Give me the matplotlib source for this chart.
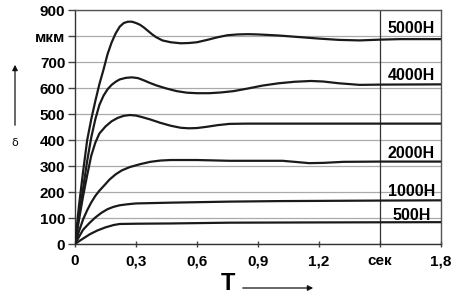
import matplotlib
matplotlib.use("Agg")
import matplotlib.pyplot as plt

# ---- data ----
t_5000 = [0, 0.02, 0.04, 0.06, 0.08, 0.1, 0.12, 0.14, 0.16, 0.18, 0.2, 0.22, 0.24, 0.26, 0.28, 0.30, 0.32, 0.34, 0.36, 0.38, 0.40, 0.43, 0.47, 0.52, 0.56, 0.6, 0.65, 0.7, 0.75, 0.8, 0.85, 0.9, 1.0, 1.1, 1.2, 1.3, 1.4, 1.5, 1.6, 1.8]
v_5000 = [0, 150, 280, 400, 480, 550, 615, 670, 730, 775, 810, 836, 850, 855, 855, 850, 843, 832, 819, 806, 795, 783, 776, 772, 773, 776, 785, 795, 803, 806, 807, 806, 802, 796, 790, 785, 783, 786, 788, 788]

t_4000 = [0, 0.02, 0.04, 0.06, 0.08, 0.1, 0.12, 0.14, 0.16, 0.18, 0.2, 0.22, 0.25, 0.28, 0.31, 0.34, 0.37, 0.4, 0.45, 0.5, 0.55, 0.6, 0.66, 0.72, 0.78, 0.85, 0.92, 1.0, 1.08, 1.16, 1.22, 1.3, 1.4, 1.5, 1.8]
v_4000 = [0, 110, 215, 320, 410, 480, 535, 570, 595, 612, 624, 633, 639, 641, 638, 629, 619, 610, 598, 588, 582, 580, 580, 583, 588, 598, 609, 618, 624, 627, 625, 618, 612, 613, 614]

t_3000 = [0, 0.02, 0.04, 0.06, 0.08, 0.1, 0.12, 0.15, 0.18, 0.21, 0.24, 0.27, 0.3, 0.33, 0.37, 0.42, 0.47, 0.52, 0.56, 0.6, 0.65, 0.7, 0.76, 0.85, 1.8]
v_3000 = [0, 95, 185, 265, 340, 390, 425, 452, 472, 485, 493, 496, 494, 488, 479, 466, 455, 447, 445, 446, 451, 457, 462, 463, 463]

t_2000 = [0, 0.02, 0.04, 0.06, 0.08, 0.1, 0.12, 0.14, 0.17, 0.2, 0.23, 0.27, 0.32, 0.37, 0.42, 0.47, 0.6, 0.76, 1.02, 1.08, 1.15, 1.22, 1.32, 1.5, 1.8]
v_2000 = [0, 50, 95, 130, 160, 185, 205, 222, 248, 268, 283, 296, 307, 316, 321, 323, 323, 320, 320, 316, 311, 312, 316, 317, 317]

t_1000 = [0, 0.02, 0.04, 0.07, 0.1, 0.13, 0.16, 0.19, 0.22, 0.26, 0.3, 0.47, 0.76, 1.0, 1.5, 1.8]
v_1000 = [0, 28, 55, 80, 102, 120, 134, 143, 149, 153, 156, 159, 163, 165, 167, 168]

t_500 = [0, 0.03, 0.074, 0.11, 0.15, 0.19, 0.22, 0.3, 0.47, 0.76, 1.2, 1.8]
v_500 = [0, 16, 38, 52, 64, 73, 77, 78, 79, 82, 83, 84]

curve_labels = ["5000H", "4000H", "2000H", "1000H", "500H"]
label_y = [830, 650, 350, 201, 111]

x_ticks = [0, 0.3, 0.6, 0.9, 1.2, 1.5, 1.8]
x_ticklabels = ["0", "0,3", "0,6", "0,9", "1,2", "сек", "1,8"]
y_ticks = [0, 100, 200, 300, 400, 500, 600, 700, 800, 900]
y_ticklabels = ["0", "100", "200", "300", "400", "500", "600", "700", "мкм", "900"]

plt.rcParams['font.family'] = ['Liberation Sans', 'DejaVu Sans']

fig = plt.figure(figsize=(4.54, 2.98), dpi=100)
ax = fig.add_axes([75/454, 1-244/298, 366/454, 234/298])

for t, v in [(t_5000, v_5000), (t_4000, v_4000), (t_3000, v_3000),
             (t_2000, v_2000), (t_1000, v_1000), (t_500, v_500)]:
    ax.plot(t, v, color='#1a1a1a', lw=1.6, solid_joinstyle='round', solid_capstyle='round', zorder=3)

ax.set_xlim(0, 1.8)
ax.set_ylim(0, 900)
ax.set_yticks(y_ticks)
ax.set_yticklabels(y_ticklabels, fontsize=11, fontweight='bold')
ax.set_xticks(x_ticks)
ax.set_xticklabels(x_ticklabels, fontsize=11, fontweight='bold')
ax.tick_params(axis='y', direction='out', length=5, width=1, color='#444444', pad=2)
ax.tick_params(axis='x', direction='inout', length=5, width=1, color='#444444', pad=5)
ax.yaxis.grid(True, color='#aaaaaa', lw=0.9)
ax.set_axisbelow(True)
for s in ['left', 'bottom']:
    ax.spines[s].set_color('#333333')
    ax.spines[s].set_linewidth(1.0)
for s in ['top', 'right']:
    ax.spines[s].set_color('#555555')
    ax.spines[s].set_linewidth(1.0)

ax.axvline(1.5, color='#333333', lw=0.9, zorder=2)

for lab, y in zip(curve_labels, label_y):
    ax.text(1.655, y, lab, ha='center', va='center', fontsize=11.5, fontweight='bold', zorder=4)

# axis annotations
fig.text(15/454, 1-143/298, "δ", ha='center', va='center', fontsize=8, family='DejaVu Sans')
fig.add_artist(matplotlib.patches.FancyArrowPatch((15/454, 1-128/298), (15/454, 1-62/298),
               transform=fig.transFigure, arrowstyle='-|>', mutation_scale=8, color='#111111', lw=0.9))
fig.text(228/454, 1-284/298, "T", ha='center', va='center', fontsize=17, fontweight='bold')
fig.add_artist(matplotlib.patches.FancyArrowPatch((240/454, 1-288/298), (316/454, 1-288/298),
               transform=fig.transFigure, arrowstyle='-|>', mutation_scale=8, color='#111111', lw=0.9))

fig.savefig("out.png", dpi=100)
